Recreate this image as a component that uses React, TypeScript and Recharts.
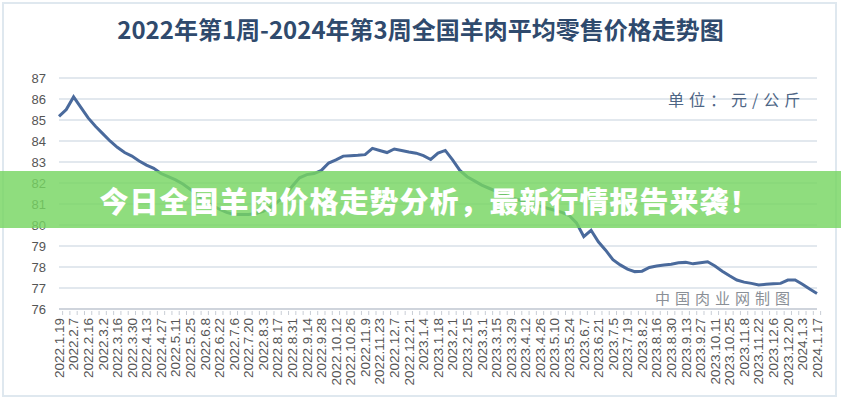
import React from 'react'
import { LineChart, Line, XAxis, YAxis, CartesianGrid } from 'recharts'

// weekly dates, every other one gets a label on the axis
const weeks: string[] = [
  '2022.1.19', '2022.1.26', '2022.2.7', '2022.2.9', '2022.2.16', '2022.2.23', '2022.3.2', '2022.3.9',
  '2022.3.16', '2022.3.23', '2022.3.30', '2022.4.6', '2022.4.13', '2022.4.20', '2022.4.27', '2022.5.4',
  '2022.5.11', '2022.5.18', '2022.5.25', '2022.6.1', '2022.6.8', '2022.6.15', '2022.6.22', '2022.6.29',
  '2022.7.6', '2022.7.13', '2022.7.20', '2022.7.27', '2022.8.3', '2022.8.10', '2022.8.17', '2022.8.24',
  '2022.8.31', '2022.9.7', '2022.9.14', '2022.9.21', '2022.9.28', '2022.10.5', '2022.10.12', '2022.10.19',
  '2022.10.26', '2022.11.2', '2022.11.9', '2022.11.16', '2022.11.23', '2022.11.30', '2022.12.7', '2022.12.14',
  '2022.12.21', '2022.12.28', '2023.1.4', '2023.1.11', '2023.1.18', '2023.1.25', '2023.2.1', '2023.2.8',
  '2023.2.15', '2023.2.22', '2023.3.1', '2023.3.8', '2023.3.15', '2023.3.22', '2023.3.29', '2023.4.5',
  '2023.4.12', '2023.4.19', '2023.4.26', '2023.5.3', '2023.5.10', '2023.5.17', '2023.5.24', '2023.5.31',
  '2023.6.7', '2023.6.14', '2023.6.21', '2023.6.28', '2023.7.5', '2023.7.12', '2023.7.19', '2023.7.26',
  '2023.8.2', '2023.8.9', '2023.8.16', '2023.8.23', '2023.8.30', '2023.9.6', '2023.9.13', '2023.9.20',
  '2023.9.27', '2023.10.4', '2023.10.11', '2023.10.18', '2023.10.25', '2023.11.1', '2023.11.8', '2023.11.15',
  '2023.11.22', '2023.11.29', '2023.12.6', '2023.12.13', '2023.12.20', '2023.12.27', '2024.1.3', '2024.1.10',
  '2024.1.17',
]

// 元/公斤
const prices: number[] = [
  85.17, 85.5, 86.1, 85.6, 85.1, 84.7, 84.35, 84.0, 83.7, 83.45, 83.28, 83.05, 82.85, 82.7, 82.45, 82.3,
  82.15, 81.95, 81.7, 81.45, 81.15, 80.95, 80.75, 80.6, 80.5, 80.5, 80.5, 80.55, 80.65, 80.85, 81.1, 81.4,
  81.85, 82.25, 82.4, 82.45, 82.6, 82.95, 83.1, 83.28, 83.3, 83.32, 83.35, 83.65, 83.55, 83.45, 83.62, 83.55,
  83.48, 83.42, 83.3, 83.12, 83.42, 83.55, 83.1, 82.6, 82.3, 82.1, 81.9, 81.75, 81.6, 81.45, 81.3, 81.2,
  81.1, 81.0, 80.9, 80.8, 80.7, 80.6, 80.45, 80.1, 79.45, 79.75, 79.2, 78.8, 78.35, 78.1, 77.9, 77.78,
  77.8, 77.98, 78.05, 78.1, 78.13, 78.2, 78.22, 78.15, 78.2, 78.25, 78.05, 77.8, 77.58, 77.38, 77.28, 77.22,
  77.14, 77.18, 77.2, 77.22, 77.38, 77.38, 77.18, 76.95, 76.74,
]

const yTicks = [76, 77, 78, 79, 80, 81, 82, 83, 84, 85, 86, 87]

const chartData = weeks.map((w, i) => ({ week: w, price: prices[i] }))

const CJK = '"Noto Sans CJK SC", "Noto Sans", sans-serif'

function WeekTick(props: any) {
  const { x, y, payload } = props
  const idx = payload?.index ?? props.index ?? 0
  const half = 758 / weeks.length / 2
  return (
    <g>
      <line x1={x + half} x2={x + half} y1={y - 6} y2={y - 2} stroke="#c9ced6" strokeWidth={1} />
      {idx % 2 === 0 && (
        <text
          transform={`translate(${x + 4.8},${y + 1}) rotate(-90)`}
          textAnchor="end"
          fontSize={13.5}
          fontFamily='"Liberation Sans", Arial, sans-serif'
          fill="#555"
        >
          {payload.value}
        </text>
      )}
    </g>
  )
}

export default function App() {
  return (
    <div
      style={{
        position: 'fixed',
        left: 0,
        top: 0,
        width: 841,
        height: 400,
        background: '#fff',
        overflow: 'hidden',
      }}
    >
      {/* thin frame round the picture */}
      <div
        style={{
          position: 'absolute',
          left: 2,
          top: 2,
          right: 4,
          bottom: 3,
          border: '2px solid #dfe8ef',
        }}
      />

      <div
        style={{
          position: 'absolute',
          top: 11,
          width: 841,
          textAlign: 'center',
          fontFamily: CJK,
          fontWeight: 700,
          fontSize: 24,
          color: '#2f4a6d',
        }}
      >
        2022年第1周-2024年第3周全国羊肉平均零售价格走势图
      </div>

      <LineChart
        width={841}
        height={400}
        data={chartData}
        margin={{ top: 78, right: 24, bottom: 4, left: 19 }}
        style={{ position: 'absolute', left: 0, top: 0 }}
      >
        <CartesianGrid vertical={false} stroke="#d8e0e9" strokeWidth={1.3} />
        <XAxis
          dataKey="week"
          interval={0}
          height={87}
          tick={<WeekTick />}
          tickLine={false}
          axisLine={{ stroke: '#c9ced6', strokeWidth: 1.5 }}
        />
        <YAxis
          domain={[76, 87]}
          ticks={yTicks}
          interval={0}
          width={40}
          axisLine={false}
          tickLine={false}
          tickMargin={7}
          tick={{ fontSize: 13, fill: '#555', fontFamily: '"Liberation Sans", Arial, sans-serif' }}
        />
        <Line
          type="linear"
          dataKey="price"
          stroke="#4a6a9c"
          strokeWidth={3}
          dot={false}
          isAnimationActive={false}
        />
      </LineChart>

      <div
        style={{
          position: 'absolute',
          left: 668,
          top: 87,
          fontFamily: CJK,
          fontSize: 16,
          color: '#4d6585',
          letterSpacing: 5,
        }}
      >
        单位：元/公斤
      </div>

      <div
        style={{
          position: 'absolute',
          left: 655,
          top: 287,
          fontFamily: CJK,
          fontSize: 15,
          color: '#8a8f96',
          letterSpacing: 5,
        }}
      >
        中国肉业网制图
      </div>

      {/* green banner laid over the middle of the chart */}
      <div
        style={{
          position: 'absolute',
          left: 0,
          top: 171,
          width: 841,
          height: 57,
          boxSizing: 'border-box',
          paddingLeft: 18,
          background: 'rgba(118, 214, 98, 0.82)',
          display: 'flex',
          alignItems: 'center',
          justifyContent: 'center',
          fontFamily: CJK,
          fontWeight: 900,
          fontSize: 29,
          color: '#fff',
          letterSpacing: 1,
        }}
      >
        今日全国羊肉价格走势分析，最新行情报告来袭！
      </div>
    </div>
  )
}
